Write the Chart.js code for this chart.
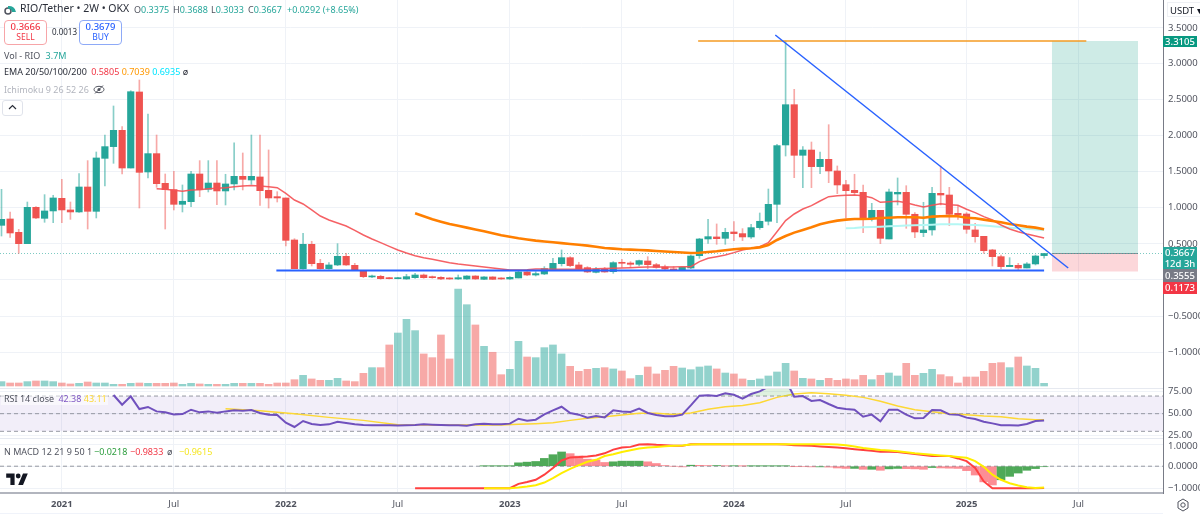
<!DOCTYPE html>
<html>
<head>
<meta charset="utf-8">
<title>RIO/Tether 2W</title>
<script src="https://cdn.jsdelivr.net/npm/chart.js@4/dist/chart.umd.min.js"></script>
<style>
  html, body { margin: 0; padding: 0; background: #fff; overflow: hidden; }
  #wrap { position: relative; width: 1200px; height: 517px; font-family: "Noto Sans", sans-serif; }
  canvas { position: absolute; left: 0; top: 0; }
  .t { position: absolute; white-space: nowrap; font-size: 9px; line-height: 13px; color: #50535e; }
  .tag { position: absolute; left: 1163px; width: 34px; color: #fff; font-size: 9.5px; line-height: 11px; text-align: center; font-weight: 500; }
  .btn { position: absolute; top: 20px; width: 41px; height: 22px; border-radius: 4px; background: #fff; text-align: center; font-size: 8.5px; line-height: 10px; padding-top: 1px; }
  .sep { position: absolute; left: 0; width: 1163px; height: 1px; background: #e6e9f0; }
</style>
</head>
<body>
<div id="wrap">
  <canvas id="rio" width="1200" height="517"></canvas>
  <div class="sep" style="top:388px"></div>
  <div class="sep" style="top:438px"></div>
  <div class="sep" style="top:513px;background:#f0f3fa"></div>

  <svg style="position:absolute;left:4px;top:3px" width="13" height="12" viewBox="0 0 13 12"><circle cx="4" cy="8" r="3" fill="none" stroke="#50535e" stroke-width="1.5"/><path d="M4 3 A7 7 0 0 1 12 9 L8 9 A3 3 0 0 0 4 6z" fill="#26a69a"/></svg>
  <div class="t" style="left:20px;top:2px;font-size:10.5px;color:#2a2e39">RIO/Tether • 2W • OKX</div>
  <div class="t" style="left:134px;top:3px;color:#26a69a"><span style="color:#50535e">O</span>0.3375</div>
  <div class="t" style="left:173px;top:3px;color:#26a69a"><span style="color:#50535e">H</span>0.3688</div>
  <div class="t" style="left:211px;top:3px;color:#26a69a"><span style="color:#50535e">L</span>0.3033</div>
  <div class="t" style="left:248px;top:3px;color:#26a69a"><span style="color:#50535e">C</span>0.3667</div>
  <div class="t" style="left:287px;top:3px;color:#26a69a">+0.0292 (+8.65%)</div>

  <div class="btn" style="left:4px;border:1px solid #f7a5a8;color:#f23645"><b style="font-size:9.5px;font-weight:500">0.3666</b><br>SELL</div>
  <div class="t" style="left:52px;top:25px;font-size:8px;color:#2a2e39">0.0013</div>
  <div class="btn" style="left:79px;border:1px solid #8eaaf7;color:#2962ff"><b style="font-size:9.5px;font-weight:500">0.3679</b><br>BUY</div>

  <div class="t" style="left:4px;top:49px">Vol - RIO <span style="color:#26a69a;margin-left:3px">3.7M</span></div>
  <div class="t" style="left:4px;top:65px;color:#2a2e39">EMA 20/50/100/200 <span style="color:#f23645;margin-left:2px">0.5805</span> <span style="color:#ff9800">0.7039</span> <span style="color:#00e5ff">0.6935</span> <span>ø</span></div>
  <div class="t" style="left:4px;top:83px;color:#b2b5be">Ichimoku 9 26 52 26</div>
  <svg style="position:absolute;left:93px;top:84px" width="12" height="11" viewBox="0 0 12 11"><ellipse cx="6" cy="5.5" rx="5" ry="3.2" fill="none" stroke="#50535e"/><circle cx="6" cy="5.5" r="1.5" fill="#50535e"/><path d="M2 9.5 L10 1.5" stroke="#50535e"/></svg>
  <div style="position:absolute;left:2px;top:100px;width:19px;height:14px;border:1px solid #e0e3eb;border-radius:3px;background:#fff"></div>
  <svg style="position:absolute;left:8px;top:104px" width="9" height="6" viewBox="0 0 9 6"><path d="M1 5 L4.5 1.5 L8 5" fill="none" stroke="#2a2e39" stroke-width="1.2"/></svg>

  <div class="t" style="left:1px;top:392px;padding:0 1px 0 3px;background:rgba(255,255,255,.5);color:#50535e">RSI 14 close <span style="color:#7e57c2;margin-left:2px">42.38</span> <span style="color:#fdd835">43.11</span></div>
  <div class="t" style="left:4px;top:445px">N MACD 12 21 9 50 1</div>
  <div class="t" style="left:94px;top:445px;color:#2e9e3f">−0.0218</div>
  <div class="t" style="left:130px;top:445px;color:#f23645">−0.9833</div>
  <div class="t" style="left:167px;top:445px">ø</div>
  <div class="t" style="left:179px;top:445px;color:#f5e625">−0.9615</div>
  <svg style="position:absolute;left:6px;top:473px" width="22" height="12" viewBox="0 0 36 20"><path d="M14 20H7V8H0V1h14zM28 20h-8L28 1h8z" fill="#131722"/><circle cx="20" cy="5" r="4" fill="#131722"/></svg>

  <div class="t" style="left:1167px;top:2px;width:33px;height:15px;line-height:15px;font-size:9.5px;color:#131722;background:#fff;border:1px solid #eef0f4;border-right:0;box-sizing:border-box;padding-left:2px">USDT ▾</div>
  <div class="t" style="left:1168px;top:20.5px;font-size:9.5px">3.5000</div>
  <div class="t" style="left:1168px;top:438.5px;font-size:9.5px">1.0000</div>
  <div class="tag" style="top:36px;height:11px;background:#089981">3.3105</div>
  <div class="tag" style="top:247px;height:22px;background:#26a69a">0.3667<br>12d 3h</div>
  <div class="tag" style="top:269px;height:13px;line-height:13px;background:#787b86">0.3555</div>
  <div class="tag" style="top:282px;height:12px;line-height:12px;background:#f23645">0.1173</div>
  <svg style="position:absolute;left:1176px;top:498px" width="14" height="14" viewBox="0 0 14 14"><circle cx="7" cy="7" r="2.2" fill="none" stroke="#50535e"/><path d="M7 1 L12 4 L12 10 L7 13 L2 10 L2 4z" fill="none" stroke="#50535e"/></svg>
</div>

<script>
// candles, 2W bars
const open = [.757,.845,.66,.503,1.006,.854,.956,1.131,.97,.942,1.288,.951,1.685,1.847,2.073,1.551,2.604,1.496,1.75,1.339,1.251,1.048,1.085,1.468,1.256,1.343,1.233,1.33,1.436,1.385,1.427,1.242,1.154,1.136,.554,.157,.494,.231,.157,.208,.328,.203,.129,.042,.051,.032,.018,.014,.032,.069,.046,.037,.028,.014,.014,.055,.009,.042,.028,.014,.028,.111,.069,.083,.148,.226,.309,.208,.171,.106,.148,.115,.245,.235,.217,.263,.212,.18,.152,.139,.166,.337,.568,.596,.577,.665,.642,.596,.725,.813,1.048,1.87,2.428,1.727,1.8,1.57,1.671,1.51,1.32,1.242,1.214,.859,.965,.568,1.191,1.214,.91,.656,.693,1.2,1.177,.923,.914,.693,.605,.416,.323,.185,.203,.166,.222,.3375]
const high = [1.256,.942,.702,1.08,1.015,1.182,1.173,1.394,1.08,1.473,1.653,1.773,2.008,2.41,2.124,2.622,2.77,2.299,2.008,1.468,1.505,1.316,1.505,1.653,1.653,1.653,1.464,1.898,1.759,2.008,2.008,1.801,1.223,1.136,.572,.646,.536,.286,.24,.503,.369,.231,.129,.069,.065,.037,.037,.078,.092,.083,.055,.046,.032,.069,.06,.06,.046,.046,.032,.046,.125,.115,.115,.185,.3,.416,.323,.245,.185,.175,.175,.254,.286,.254,.277,.323,.231,.208,.185,.175,.346,.577,.84,.776,.716,.808,.711,.771,.928,1.26,1.879,3.3105,2.641,1.847,1.911,1.773,2.151,1.579,1.38,1.464,1.316,1.062,.965,1.26,1.413,1.306,.933,1.076,1.283,1.579,1.283,1.025,.933,.785,.605,.425,.346,.309,.231,.24,.346,.3688]
const low = [.609,.591,.369,.503,.85,.799,.794,.794,.84,.937,.706,.859,1.302,1.616,1.468,1.551,.997,1.413,1.283,.706,.97,.942,1.016,1.154,1.219,1.043,1.039,1.247,1.247,1.325,1.034,.997,1.08,.471,.157,.15,.194,.15,.15,.198,.203,.129,.032,.032,.01,.014,.014,.009,.023,.023,.023,.005,.009,.009,.009,.009,.005,.005,.009,.009,.028,.06,.055,.074,.134,.194,.185,.148,.102,.097,.106,.092,.175,.175,.194,.157,.162,.139,.129,.129,.157,.3,.508,.494,.494,.545,.545,.577,.702,.762,.794,1.717,1.417,1.279,1.279,1.473,1.348,1.196,.859,1.177,.656,.817,.503,.568,1.039,.716,.586,.6,.619,1.039,.753,.84,.646,.522,.369,.194,.152,.185,.129,.166,.208,.3033]
const close = [.84,.651,.503,1.006,.859,.956,1.136,.97,.942,1.288,.951,1.69,1.847,2.073,1.551,2.608,1.491,1.75,1.334,1.251,1.048,1.09,1.468,1.251,1.343,1.233,1.33,1.436,1.394,1.436,1.237,1.136,1.136,.549,.157,.494,.226,.157,.208,.328,.208,.129,.046,.055,.018,.018,.032,.046,.069,.032,.032,.014,.014,.032,.055,.014,.042,.009,.014,.037,.111,.069,.088,.157,.231,.309,.199,.157,.111,.148,.111,.24,.231,.217,.268,.212,.175,.152,.139,.175,.332,.568,.6,.572,.66,.642,.596,.725,.813,1.048,1.861,2.428,1.727,1.8,1.57,1.671,1.51,1.316,1.237,1.21,.859,.965,.577,1.219,1.214,.91,.665,.693,1.2,1.177,.91,.9,.702,.6,.406,.323,.185,.203,.166,.222,.332,.3667]
const volumeM = [6,4.1,4.1,6,6.9,6.9,6,4.1,2.8,3.7,5.5,4.1,4.1,2.3,2.3,3.7,4.1,3.7,3.7,3.7,4.1,2.3,3.7,2.8,2.3,2.3,2.3,3.7,3.7,3.7,3.7,2.3,4.1,4.1,8.7,14.7,9.7,7.8,7.8,10.6,6.9,6,17.5,25.3,25.3,56.6,73.1,92,76.4,44.2,39.1,70.4,37.3,133.9,112.2,84.2,54.7,46.5,15.6,23,61.6,40,39.1,52.9,56.6,44.2,27.1,20.2,23,24.4,25.3,23.5,20.7,10.1,14.7,26.2,16.6,21.6,27.1,24.8,22.5,26.2,27.6,23.5,17.9,16.6,9.7,7.8,9.7,13.8,19.3,31.3,20.7,10.6,9.7,7.8,10.6,7.8,9.7,8.7,14.7,8.7,14.7,17.9,13.8,31.3,14.7,17.5,23,15.6,12.9,4.1,12.4,12.4,20.2,31.3,32.2,25.3,40,27.6,24.4,3.7]

// moving averages, each starts at its own bar
const ema20Start = 18
const ema20 = [1.265,1.256,1.242,1.228,1.247,1.251,1.265,1.27,1.279,1.293,1.302,1.307,1.302,1.293,1.279,1.2,1.108,1.053,.97,.886,.831,.79,.748,.688,.623,.568,.517,.466,.416,.374,.337,.309,.286,.263,.24,.222,.208,.194,.18,.166,.152,.139,.139,.141,.152,.152,.148,.148,.148,.148,.148,.155,.16,.162,.166,.171,.175,.18,.18,.18,.18,.185,.185,.254,.3,.323,.346,.379,.416,.439,.462,.517,.669,.822,.914,.983,1.03,1.094,1.154,1.168,1.173,1.177,1.168,1.14,1.076,1.085,1.09,1.071,1.039,1.011,1.034,1.057,1.043,1.034,.979,.933,.877,.831,.762,.706,.669,.637,.609,.5805]
const ema50Start = 48
const ema50 = [.923,.882,.84,.808,.776,.75,.725,.7,.674,.646,.62,.598,.577,.56,.545,.533,.522,.51,.499,.488,.476,.46,.443,.434,.425,.42,.416,.41,.402,.395,.388,.38,.374,.377,.388,.397,.411,.425,.434,.439,.452,.485,.554,.609,.656,.693,.729,.771,.799,.822,.836,.845,.845,.849,.859,.863,.868,.868,.868,.863,.877,.882,.886,.882,.863,.854,.836,.817,.799,.776,.757,.739,.725,.7039]
const ema100Start = 98
const ema100 = [.716,.72,.729,.734,.739,.743,.748,.753,.757,.762,.766,.771,.771,.771,.766,.762,.753,.743,.734,.725,.716,.711,.7,.6935]

// drawings on the price pane
const longBoxIdx = [121.9, 131.9]
const entryPrice = 0.3667
const targetPrice = 3.3105
const stopPrice = 0.1173
const targetLineIdx = [80.85, 125.9]
const trendIdx = [89.8, 123.8]
const trendPrice = [3.393, 0.166]
const supportIdx = [31.9, 121]
const supportPrice = 0.132

// RSI pane
const rsiStart = 13
const rsi = [71.2,60.2,69.7,55.3,57.6,52.6,51.5,49.2,49.6,54.5,51.5,52.6,51.1,52.6,53.8,53.4,54.2,50.8,48.9,48.5,39.8,34.9,41.7,38.3,37.2,37.9,40.9,39.4,37.9,37.2,36.8,36.8,36.8,36.6,36.8,37.2,37.9,37.5,37.2,36.8,36.8,36.4,37.9,38.7,37.9,37.9,38.7,44.3,42.1,43.2,49.2,53.8,57.9,50.8,48.9,45.5,47.4,45.8,53.8,52.6,51.9,55.7,50.8,48.5,47,47,48.9,59.4,70.4,70.8,70,73.1,71.5,67,72.3,75.3,80.6,88,88,69.3,70,64.4,65.5,61,56.8,55.3,54.5,46.6,48.9,41.3,54.5,54.5,48.9,44.7,45.1,54.2,53.8,49.2,48.9,45.5,44,40.9,39,36.8,36.8,36.6,38.3,41.7,42.38]
const rsiMaIdx = [26,30,34,38,42,46,50,54,58,60,62,64,66,68,70,72,74,76,78,80,82,84,86,88,90,92,94,96,98,100,102,104,106,108,110,112,114,116,118,120,121]
const rsiMa = [55.7,53.4,50,45.8,42.4,37.5,37.2,37.2,37.2,37.9,38.7,39.8,42.4,44.7,46.6,48.5,50.4,50.4,49.2,50.8,54.9,57.9,59.4,62.5,68.5,72.3,73.8,72.7,70.8,68.5,64,58.7,54.5,52.3,50,48.9,47.4,46.6,44.3,43.2,43.11]
const rsiBand = [70, 30]
const rsiMid = 50

// N MACD pane
const macdStart = 48
const macd = [-1,-1,-1,-1,-1,-1,-1,-1,-1,-1,-1,-1,-.8,-.72,-.615,-.385,-.08,.26,.4,.415,.446,.49,.585,.754,.846,.877,.985,1,.97,.954,.923,.923,1,1,1,1,1,1,1,1,1,1,1,.99,.954,.94,.923,.9,.877,.845,.815,.775,.738,.7,.66,.655,.646,.6,.554,.51,.46,.46,.46,.354,.23,-.08,-.69,-1,-1,-1,-1,-1,-1,-.9833]
const signalStart = 56
const signal = [-1,-1,-1,-1,-.97,-.92,-.86,-.74,-.54,-.31,-.12,.046,.2,.29,.46,.54,.646,.72,.8,.846,.877,.908,.923,.938,.985,1,1,1,1,1,1,1,1,1,1,1,1,1,1,1,1,.98,.954,.89,.83,.78,.738,.71,.677,.63,.585,.55,.523,.49,.46,.42,.385,.23,-.03,-.385,-.615,-.77,-.877,-.954,-.985,-.9615]
const histStart = 56
const hist = [.01,.01,.01,.01,.154,.185,.215,.354,.523,.646,.57,.46,.32,.29,.17,.2,.23,.23,.23,.2,.123,.03,0,-.03,.046,.04,.03,.03,.015,.015,.01,.01,.01,.01,.01,.01,-.015,-.02,-.03,-.03,-.04,-.08,-.1,-.1,-.14,-.14,-.185,-.12,-.1,-.11,-.12,-.14,-.06,-.08,-.09,-.1,-.2,-.4,-.71,-.85,-.615,-.46,-.31,-.185,-.108,-.0218]

// axis ticks
const timeTickIdx = [7, 20, 33, 46, 59, 72, 85, 98, 112, 125]
const timeTickLabels = ['2021', 'Jul', '2022', 'Jul', '2023', 'Jul', '2024', 'Jul', '2025', 'Jul']
const priceTicks = [-1, -0.5, 0, 0.5, 1, 1.5, 2, 2.5, 3, 3.5]
const rsiTicks = [25, 50, 75]
const macdTicks = [-1, 0, 1]

const xMin = -0.174
const xMax = 134.8
const gridColor = '#eff2f7'
const tickColor = '#50535e'
const tickFont = { family: '"Noto Sans", sans-serif', size: 9.5 }

const teal = 'rgba(38,166,154,1)'
const red = 'rgba(239,83,80,1)'
const bars = open.map((o, i) => i)
const isUp = i => close[i] >= open[i]

const series = (start, values) => values.map((y, i) => ({ x: start + i, y }))
const segment = (xs, y0, y1) => [{ x: xs[0], y: y0 }, { x: xs[1], y: y1 }]
const line = (data, yAxisID, color, width, order, extra) => Object.assign({
  type: 'line', data, yAxisID, borderColor: color, borderWidth: width, pointRadius: 0, tension: 0, order, fill: false
}, extra)
const fixedTicks = values => scale => { scale.ticks = values.map(value => ({ value })) }
const fixBox = scale => {
  scale.width = 37
  scale.paddingTop = 0
  scale.paddingBottom = 0
}

const datasets = [
  // long position box
  line(segment(longBoxIdx, targetPrice, targetPrice), 'price', 'rgba(0,0,0,0)', 0, 40, { fill: { value: entryPrice }, backgroundColor: 'rgba(8,153,129,.2)' }),
  line(segment(longBoxIdx, stopPrice, stopPrice), 'price', 'rgba(0,0,0,0)', 0, 40, { fill: { value: entryPrice }, backgroundColor: 'rgba(242,54,69,.2)' }),
  line(segment(longBoxIdx, entryPrice, entryPrice), 'price', '#8a8d96', 1, 39),
  line(segment([xMin, xMax], entryPrice, entryPrice), 'price', 'rgba(38,166,154,.6)', 1, 38, { borderDash: [1, 2] }),

  // volume
  { type: 'bar', yAxisID: 'vol', grouped: false, barThickness: 7, order: 30,
    data: bars.map(i => ({ x: i, y: volumeM[i] })),
    backgroundColor: bars.map(i => isUp(i) ? 'rgba(38,166,154,.5)' : 'rgba(239,83,80,.5)') },

  // candles
  { type: 'bar', yAxisID: 'price', grouped: false, barThickness: 1, order: 12,
    data: bars.map(i => ({ x: i, y: [low[i], high[i]] })),
    backgroundColor: bars.map(i => isUp(i) ? 'rgba(38,166,154,.55)' : 'rgba(239,83,80,.5)') },
  { type: 'bar', yAxisID: 'price', grouped: false, barThickness: 6.5, minBarLength: 1, order: 11,
    data: bars.map(i => ({ x: i, y: [open[i], close[i]] })),
    backgroundColor: bars.map(i => isUp(i) ? teal : red) },

  line(series(ema100Start, ema100), 'price', '#b4f7f4', 2, 8),
  line(series(ema20Start, ema20), 'price', 'rgba(244,80,84,.9)', 1.5, 6),
  line(series(ema50Start, ema50), 'price', '#ff7f00', 2.6, 5),

  line(segment(targetLineIdx, targetPrice, targetPrice), 'price', '#f59b23', 1.5, 4),
  line(segment(trendIdx, trendPrice[0], trendPrice[1]), 'price', '#2962ff', 1.5, 3),
  line(segment(supportIdx, supportPrice, supportPrice), 'price', '#2962ff', 2, 3),

  // RSI
  line(segment([xMin, xMax], rsiBand[0], rsiBand[0]), 'rsi', '#9598a1', 1, 25, { borderDash: [4, 3], fill: { value: rsiBand[1] }, backgroundColor: 'rgba(126,87,194,.1)' }),
  line(segment([xMin, xMax], rsiMid, rsiMid), 'rsi', '#9598a1', 1, 24, { borderDash: [4, 3] }),
  line(segment([xMin, xMax], rsiBand[1], rsiBand[1]), 'rsi', '#9598a1', 1, 24, { borderDash: [4, 3] }),
  line(rsiMaIdx.map((x, i) => ({ x, y: rsiMa[i] })), 'rsi', '#fdd835', 1.5, 22),
  line(series(rsiStart, rsi), 'rsi', '#7050bd', 2, 21, { fill: { value: rsiBand[0], above: 'rgba(76,175,80,.18)', below: 'rgba(0,0,0,0)' } }),

  // MACD
  line(segment([xMin, xMax], 0, 0), 'macd', '#9598a1', 1, 29, { borderDash: [4, 3] }),
  { type: 'bar', yAxisID: 'macd', grouped: false, barThickness: 8, order: 28,
    data: series(histStart, hist),
    backgroundColor: hist.map((v, i) => i === 0 || v >= hist[i - 1] ? 'rgba(60,160,70,.9)' : 'rgba(250,80,90,.65)') },
  line(series(macdStart, macd), 'macd', '#ff4040', 2, 27),
  line(series(signalStart, signal), 'macd', '#ffee00', 2, 26)
]

new Chart(document.getElementById('rio'), {
  type: 'bar',
  data: { datasets },
  options: {
    responsive: false,
    animation: false,
    layout: { padding: 0 },
    plugins: { legend: { display: false }, tooltip: { enabled: false } },
    scales: {
      x: {
        type: 'linear', min: xMin, max: xMax, offset: false,
        afterBuildTicks: fixedTicks(timeTickIdx),
        afterFit: scale => {
          scale.height = 24
          scale.paddingLeft = 0
          scale.paddingRight = 0
        },
        grid: { color: gridColor, drawTicks: false, offset: false },
        border: { color: '#b2b5be', width: 2 },
        ticks: {
          autoSkip: false, maxRotation: 0, padding: 6, color: tickColor,
          font: ctx => Object.assign({}, tickFont, { weight: ctx.tick && /^\d/.test(ctx.tick.label) ? 'bold' : 'normal' }),
          callback: value => timeTickLabels[timeTickIdx.indexOf(value)]
        }
      },
      price: {
        type: 'linear', position: 'right', stack: 'panes', stackWeight: 389, min: -1.51, max: 3.878,
        afterBuildTicks: fixedTicks(priceTicks), afterFit: fixBox,
        grid: { color: gridColor, drawTicks: false },
        border: { color: '#787b86', width: 1 },
        ticks: { autoSkip: false, padding: 5, color: tickColor, font: tickFont,
          callback: v => v === 0 || v === 3.5 ? '' : (v < 0 ? '−' : '') + Math.abs(v).toFixed(4) }
      },
      rsi: {
        type: 'linear', position: 'right', stack: 'panes', stackWeight: 49, min: 22.4, max: 78,
        afterBuildTicks: fixedTicks(rsiTicks), afterFit: fixBox,
        grid: { color: gridColor, drawTicks: false },
        border: { color: '#787b86', width: 1 },
        ticks: { autoSkip: false, padding: 5, color: tickColor, font: tickFont, callback: v => v.toFixed(2) }
      },
      macd: {
        type: 'linear', position: 'right', stack: 'panes', stackWeight: 55, min: -1.215, max: 1.28,
        afterBuildTicks: fixedTicks(macdTicks), afterFit: fixBox,
        grid: { color: gridColor, drawTicks: false },
        border: { color: '#787b86', width: 1 },
        ticks: { autoSkip: false, padding: 5, color: tickColor, font: tickFont,
          callback: v => v === 1 ? '' : (v < 0 ? '−' : '') + Math.abs(v).toFixed(4) }
      },
      vol: { type: 'linear', position: 'right', display: false, min: -147.7, max: 532.7 }
    }
  }
})
</script>
</body>
</html>
